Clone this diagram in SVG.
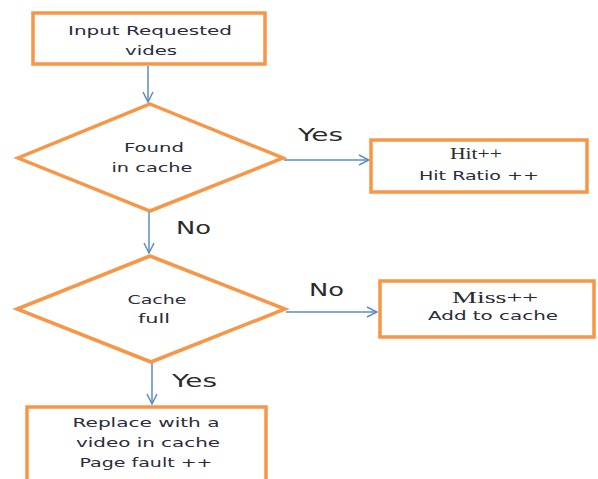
<svg xmlns="http://www.w3.org/2000/svg" width="598" height="479" viewBox="0 0 598 479">
<defs>
<style>
.box{fill:#fff;stroke:#F79646;stroke-width:3.5}
.t{font-family:"DejaVu Sans","Liberation Sans",sans-serif;font-size:13px;fill:#2b2b3b;text-anchor:middle}
.s{font-family:"Liberation Serif","DejaVu Serif",serif;font-size:16px;fill:#2b2b2b;text-anchor:middle}
.lbl{font-family:"DejaVu Sans","Liberation Sans",sans-serif;font-size:18px;fill:#2b2b2b}
.c{fill:none;stroke:#5B8BC9;stroke-width:1.5}
</style>
<marker id="ah" viewBox="0 0 12 12" refX="11" refY="6" markerWidth="12" markerHeight="12" markerUnits="userSpaceOnUse" orient="auto">
<path d="M1,1 L11,6 L1,11" fill="none" stroke="#5B8BC9" stroke-width="1.5"/>
</marker>
</defs>
<rect width="598" height="479" fill="#fff"/>
<g id="connectors">
<line class="c" x1="148" y1="66" x2="148" y2="102" marker-end="url(#ah)"/>
<line class="c" x1="284" y1="160" x2="369" y2="160" marker-end="url(#ah)"/>
<line class="c" x1="149" y1="212" x2="149" y2="253" marker-end="url(#ah)"/>
<line class="c" x1="286" y1="312" x2="377" y2="312" marker-end="url(#ah)"/>
<line class="c" x1="152" y1="363" x2="152" y2="404" marker-end="url(#ah)"/>
<text class="lbl" x="298" y="141" textLength="45" lengthAdjust="spacingAndGlyphs">Yes</text>
<text class="lbl" x="176" y="234" textLength="35" lengthAdjust="spacingAndGlyphs">No</text>
<text class="lbl" x="309" y="296" textLength="35" lengthAdjust="spacingAndGlyphs">No</text>
<text class="lbl" x="172" y="387" textLength="45" lengthAdjust="spacingAndGlyphs">Yes</text>
</g>
<g id="input">
<rect class="box" x="33" y="13" width="232" height="51"/>
<text class="t" x="150" y="35" textLength="164" lengthAdjust="spacingAndGlyphs">Input Requested</text>
<text class="t" x="151" y="55" textLength="52" lengthAdjust="spacingAndGlyphs">vides</text>
</g>
<g id="found">
<polygon class="box" points="150,104 283,158 150,211 18,158"/>
<text class="t" x="154" y="152" textLength="60" lengthAdjust="spacingAndGlyphs">Found</text>
<text class="t" x="152" y="172" textLength="81" lengthAdjust="spacingAndGlyphs">in cache</text>
</g>
<g id="hit">
<rect class="box" x="371" y="140" width="216" height="52"/>
<text class="s" x="476" y="159" textLength="52" lengthAdjust="spacingAndGlyphs">Hit++</text>
<text class="t" x="479" y="180" textLength="120" lengthAdjust="spacingAndGlyphs">Hit Ratio ++</text>
</g>
<g id="full">
<polygon class="box" points="150,256 285,309 151,362 17,309"/>
<text class="t" x="157" y="304" textLength="59" lengthAdjust="spacingAndGlyphs">Cache</text>
<text class="t" x="154" y="323" textLength="32" lengthAdjust="spacingAndGlyphs">full</text>
</g>
<g id="miss">
<rect class="box" x="380" y="281" width="214" height="56"/>
<text class="s" x="495" y="303" textLength="86" lengthAdjust="spacingAndGlyphs">Miss++</text>
<text class="t" x="493" y="320" textLength="130" lengthAdjust="spacingAndGlyphs">Add to cache</text>
</g>
<g id="replace">
<rect class="box" x="27" y="407" width="239" height="80"/>
<text class="t" x="146" y="427" textLength="147" lengthAdjust="spacingAndGlyphs">Replace with a</text>
<text class="t" x="148" y="447" textLength="144" lengthAdjust="spacingAndGlyphs">video in cache</text>
<text class="t" x="146" y="467" textLength="133" lengthAdjust="spacingAndGlyphs">Page fault ++</text>
</g>
</svg>
